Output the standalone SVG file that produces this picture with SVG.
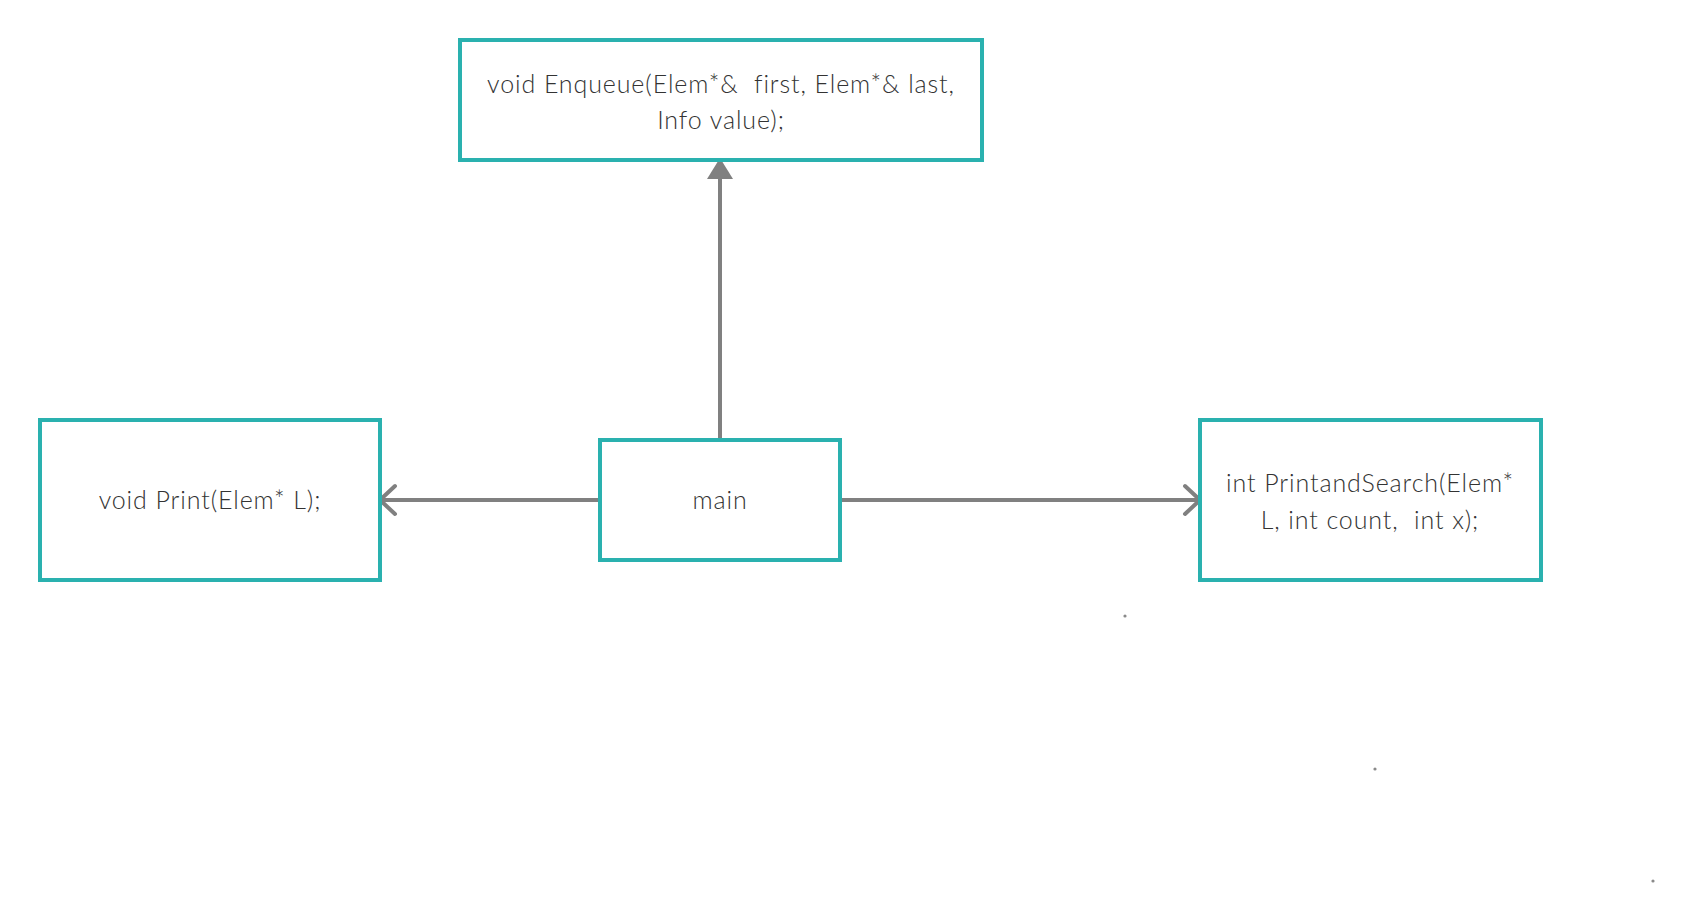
<svg xmlns="http://www.w3.org/2000/svg" width="1692" height="920" viewBox="0 0 1692 920">
<style>
.box{fill:#ffffff;stroke:#2ab1af;stroke-width:4}
.lbl{font-family:Lato,"Liberation Sans",sans-serif;font-size:25px;font-weight:300;letter-spacing:0.9px;fill:#333333;text-anchor:middle}
.conn{fill:none;stroke:#808080;stroke-width:4}
.chev{fill:none;stroke:#808080;stroke-width:4;stroke-linecap:round;stroke-linejoin:round}
.dot{fill:#8a8a8a}
</style>
<rect width="1692" height="920" fill="#ffffff"/>
<g id="connectors">
<line class="conn" x1="720" y1="440" x2="720" y2="176"/>
<polygon points="720,158 733,179 707,179" fill="#808080"/>
<line class="conn" x1="600" y1="500" x2="381" y2="500"/>
<polyline class="chev" points="395,486 380,500 395,514"/>
<line class="conn" x1="840" y1="500" x2="1199" y2="500"/>
<polyline class="chev" points="1185,486 1200,500 1185,514"/>
</g>
<g id="node-enqueue">
<rect class="box" x="460" y="40" width="522" height="120"/>
<text class="lbl" x="721" y="93" xml:space="preserve">void Enqueue(Elem*&amp;  first, Elem*&amp; last,</text>
<text class="lbl" x="721" y="129">Info value);</text>
</g>
<g id="node-print">
<rect class="box" x="40" y="420" width="340" height="160"/>
<text class="lbl" x="210" y="509">void Print(Elem* L);</text>
</g>
<g id="node-main">
<rect class="box" x="600" y="440" width="240" height="120"/>
<text class="lbl" x="720" y="509">main</text>
</g>
<g id="node-printandsearch">
<rect class="box" x="1200" y="420" width="341" height="160"/>
<text class="lbl" x="1370" y="492">int PrintandSearch(Elem*</text>
<text class="lbl" x="1370" y="529" xml:space="preserve">L, int count,  int x);</text>
</g>
<g id="dots">
<circle class="dot" cx="1125" cy="616" r="1.6"/>
<circle class="dot" cx="1375" cy="769" r="1.6"/>
<circle class="dot" cx="1653" cy="881" r="1.6"/>
</g>
</svg>
